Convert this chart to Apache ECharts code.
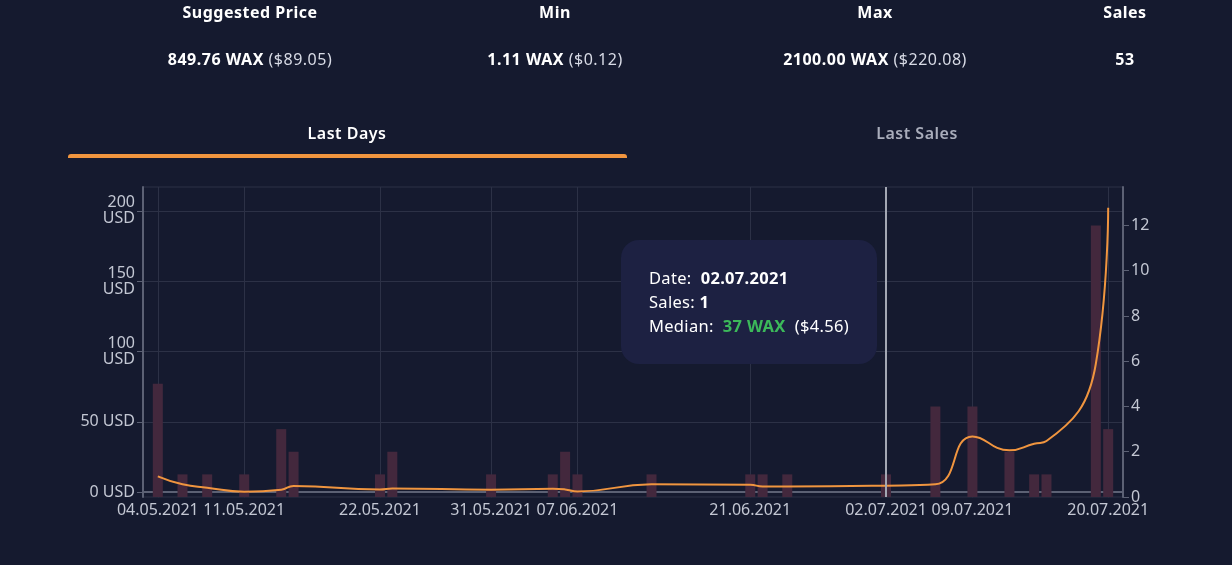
<!DOCTYPE html>
<html>
<head>
<meta charset="utf-8">
<script src="https://cdn.jsdelivr.net/npm/echarts@6/dist/echarts.min.js"></script>
<style>
    html, body {margin: 0; padding: 0; background: #151a2f; font-family: "Noto Sans", sans-serif;}
    .page {position: relative; width: 1232px; height: 565px; overflow: hidden;}
    #chart {position: absolute; left: 0; top: 0; width: 1232px; height: 565px;}
    .stat {position: absolute; transform: translateX(-50%); white-space: nowrap; color: #fff; font-size: 16px; letter-spacing: 0.5px;}
    .stat-title {top: 1px; font-weight: 700;}
    .stat-value {top: 48px;}
    .stat-value b {font-weight: 700;}
    .stat-value span {color: #d8dbe6;}
    .tab {position: absolute; top: 122px; transform: translateX(-50%); font-size: 16px; font-weight: 600; letter-spacing: 0.5px;}
    .tab-bar {position: absolute; left: 68px; top: 154px; width: 559px; height: 4px; background: #f0953f; border-radius: 3px 3px 0 0;}
</style>
</head>
<body>
<div class="page">
    <div id="chart"></div>
    <!-- 顶部统计 -->
    <div class="stat stat-title" style="left:250px">Suggested Price</div>
    <div class="stat stat-title" style="left:555px">Min</div>
    <div class="stat stat-title" style="left:875px">Max</div>
    <div class="stat stat-title" style="left:1125px">Sales</div>
    <div class="stat stat-value" style="left:250px"><b>849.76 WAX</b> <span>($89.05)</span></div>
    <div class="stat stat-value" style="left:555px"><b>1.11 WAX</b> <span>($0.12)</span></div>
    <div class="stat stat-value" style="left:875px"><b>2100.00 WAX</b> <span>($220.08)</span></div>
    <div class="stat stat-value" style="left:1125px"><b>53</b></div>
    <!-- tabs -->
    <div class="tab" style="left:347px;color:#fff">Last Days</div>
    <div class="tab" style="left:917px;color:#a9adbb">Last Sales</div>
    <div class="tab-bar"></div>
</div>
<script>
const saleDates = ['2021-05-04', '2021-05-06', '2021-05-08', '2021-05-11', '2021-05-14', '2021-05-15',
    '2021-05-22', '2021-05-23', '2021-05-31', '2021-06-05', '2021-06-06', '2021-06-07',
    '2021-06-13', '2021-06-21', '2021-06-22', '2021-06-24', '2021-07-02', '2021-07-06',
    '2021-07-09', '2021-07-12', '2021-07-14', '2021-07-15', '2021-07-19', '2021-07-20'];
const salesCount = [5, 1, 1, 1, 3, 2, 1, 2, 1, 1, 2, 1, 1, 1, 1, 1, 1, 4, 4, 2, 1, 1, 12, 3];
const medianUsd = [11.2, 5.5, 3.1, 0.3, 1.7, 4.3, 1.9, 2.6, 1.7, 2.4, 1.9, 0.5, 5.5, 5.2, 4.0, 4.0,
    4.56, 5.5, 39.6, 29.7, 34.4, 36.3, 91.3, 202.3];
const dateTicks = ['2021-05-04', '2021-05-11', '2021-05-22', '2021-05-31', '2021-06-07',
    '2021-06-21', '2021-07-02', '2021-07-09', '2021-07-20'];
const usdTicks = [0, 50, 100, 150, 200];
const salesTicks = [0, 2, 4, 6, 8, 10, 12];
const waxUsd = 0.1232; // WAX 汇率
const tipDate = '2021-07-02';

const DAY = 86400000;
const gridColor = '#2c3146';
const axisColor = '#5c6174';
const labelColor = '#c3c7d3';

const ts = s => Date.parse(s);
function fmtDate(v) {
    const d = new Date(v);
    const p = n => (n < 10 ? '0' : '') + n;
    return p(d.getUTCDate()) + '.' + p(d.getUTCMonth() + 1) + '.' + d.getUTCFullYear();
}

let myChart = echarts.init(document.getElementById('chart'));
myChart.setOption({
    animation: false,
    textStyle: {fontFamily: '"Noto Sans", sans-serif'},
    grid: {left: 143, right: 109, top: 187, bottom: 68, show: true, borderColor: gridColor, borderWidth: 1},
    tooltip: {
        trigger: 'axis',
        triggerOn: 'none',
        alwaysShowContent: true,
        backgroundColor: '#1d2142',
        borderWidth: 0,
        borderRadius: 18,
        padding: [26, 28],
        extraCssText: 'box-shadow:none;letter-spacing:0.3px;',
        textStyle: {color: '#fff', fontSize: 16.5},
        position: function () {
            return [621, 240];
        },
        axisPointer: {type: 'line', lineStyle: {color: '#a3a7b3', width: 2, type: 'solid'}},
        formatter: function (params) {
            let bar = params.find(p => p.seriesType === 'bar');
            let line = params.find(p => p.seriesType === 'line');
            let usd = line ? line.value[1] : 0;
            let str = '<div style="line-height:24px">';
            str += 'Date:&nbsp; <b>' + fmtDate(params[0].value[0]) + '</b><br/>';
            str += 'Sales: <b>' + (bar ? bar.value[1] : 0) + '</b><br/>';
            str += 'Median:&nbsp; <b style="color:#3cb95a">' + Math.round(usd / waxUsd) + ' WAX</b>&nbsp; ($' + usd.toFixed(2) + ')';
            return str + '</div>';
        }
    },
    xAxis: {
        type: 'value',
        min: v => v.min - 1.2 * DAY,
        max: v => v.max + 1.2 * DAY,
        axisLine: {lineStyle: {color: axisColor, width: 2}},
        axisTick: {show: true, length: 5, customValues: dateTicks.map(ts), lineStyle: {color: axisColor}},
        axisLabel: {customValues: dateTicks.map(ts), color: labelColor, fontSize: 16, margin: 5, formatter: fmtDate},
        splitLine: {show: true, lineStyle: {color: gridColor, width: 1}}
    },
    yAxis: [
        {
            type: 'value',
            min: -3.5,
            max: 217,
            axisLine: {show: true, lineStyle: {color: axisColor, width: 2}},
            axisTick: {show: true, length: 6, customValues: usdTicks, lineStyle: {color: axisColor}},
            axisLabel: {
                customValues: usdTicks, color: labelColor, fontSize: 16, margin: 8, lineHeight: 16,
                formatter: v => (v >= 100 ? v + '\nUSD' : v + ' USD')
            },
            splitLine: {show: true, lineStyle: {color: gridColor, width: 1}}
        },
        {
            type: 'value',
            position: 'right',
            min: 0,
            max: 13.7,
            axisLine: {show: true, lineStyle: {color: axisColor, width: 2}},
            axisTick: {show: true, length: 6, customValues: salesTicks, lineStyle: {color: axisColor}},
            axisLabel: {customValues: salesTicks, color: labelColor, fontSize: 16, margin: 8},
            splitLine: {show: false}
        }
    ],
    series: [
        {
            name: 'Sales',
            type: 'bar',
            yAxisIndex: 1,
            barWidth: 10,
            itemStyle: {color: '#43283d'},
            emphasis: {disabled: true},
            data: saleDates.map((d, i) => [ts(d), salesCount[i]])
        },
        {
            name: 'Median',
            type: 'line',
            yAxisIndex: 0,
            smooth: true,
            symbol: 'none',
            lineStyle: {color: '#f0953f', width: 2},
            itemStyle: {color: '#f0953f'},
            emphasis: {disabled: true},
            data: saleDates.map((d, i) => [ts(d), medianUsd[i]])
        }
    ]
});

myChart.dispatchAction({type: 'showTip', seriesIndex: 0, dataIndex: saleDates.indexOf(tipDate)});
</script>
</body>
</html>
